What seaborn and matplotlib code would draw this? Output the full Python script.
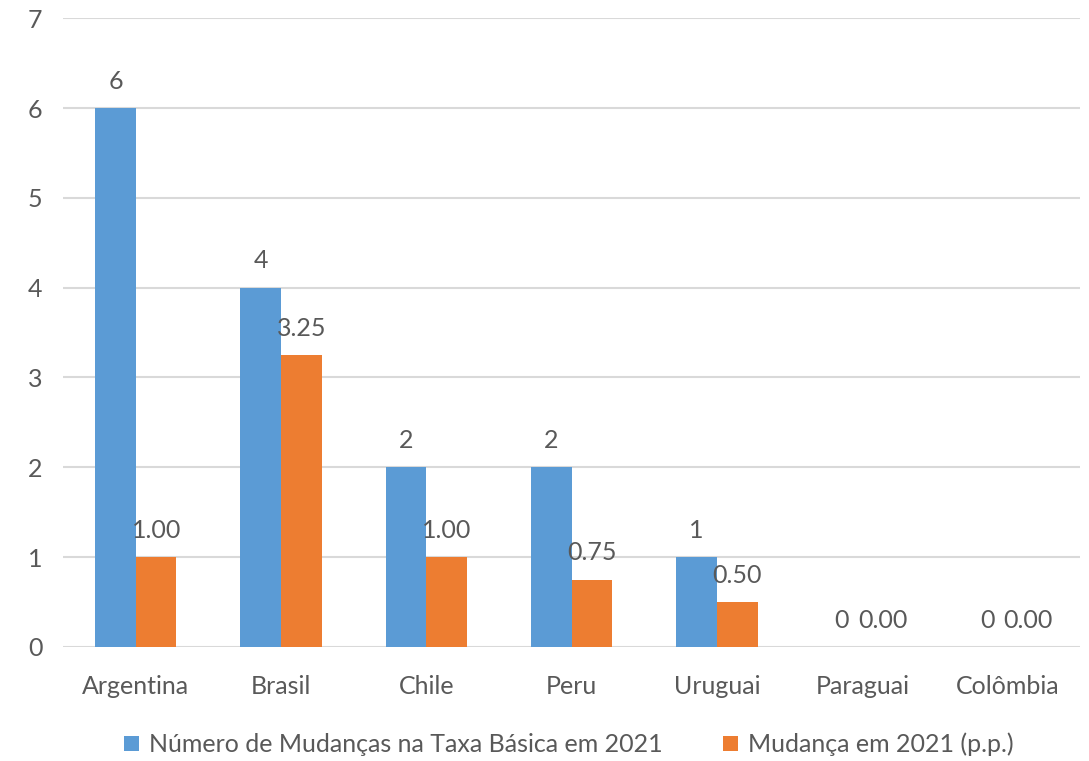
import matplotlib
matplotlib.use("Agg")
import matplotlib.pyplot as plt
import seaborn as sns
import pandas as pd

paises = ["Argentina", "Brasil", "Chile", "Peru", "Uruguai", "Paraguai", "Colômbia"]
num_mudancas = [6, 4, 2, 2, 1, 0, 0]
mudanca_pp = [1.00, 3.25, 1.00, 0.75, 0.50, 0.00, 0.00]
serie_a = "Número de Mudanças na Taxa Básica em 2021"
serie_b = "Mudança em 2021 (p.p.)"

df = pd.DataFrame({
    "pais": paises * 2,
    "valor": num_mudancas + mudanca_pp,
    "serie": [serie_a] * len(paises) + [serie_b] * len(paises),
})

sns.set_theme(style="white")
plt.rcParams["font.family"] = ["Lato", "DejaVu Sans"]
texto = "#595959"
fs = 18

fig = plt.figure(figsize=(10.89, 7.61), dpi=100)
ax = fig.add_axes([0.058, 0.150, 0.934, 0.826])

sns.barplot(data=df, x="pais", y="valor", hue="serie",
            palette=["#5B9BD5", "#ED7D31"], width=0.56, saturation=1,
            errorbar=None, linewidth=0, ax=ax)

ax.bar_label(ax.containers[0], fmt="%d", padding=11, fontsize=fs, color=texto)
ax.bar_label(ax.containers[1], fmt="%.2f", padding=11, fontsize=fs, color=texto)

ax.set_ylim(0, 7)
ax.set_yticks(range(0, 8))
ax.set_xlim(-0.5, len(paises) - 0.5)
ax.yaxis.grid(True, color="#D9D9D9", linewidth=1.5)
ax.set_axisbelow(True)
for s in ax.spines.values():
    s.set_visible(False)
ax.tick_params(axis="both", length=0, labelsize=fs, colors=texto)
ax.tick_params(axis="y", pad=15)
ax.tick_params(axis="x", pad=20)
ax.set_xlabel("")
ax.set_ylabel("")

ax.legend(loc="lower center", bbox_to_anchor=(0.497, -0.21), ncol=2,
          frameon=False, fontsize=fs, labelcolor=texto,
          handlelength=0.6, handleheight=0.6, handletextpad=0.4,
          columnspacing=2.4)

fig.savefig("out.png", dpi=100)
